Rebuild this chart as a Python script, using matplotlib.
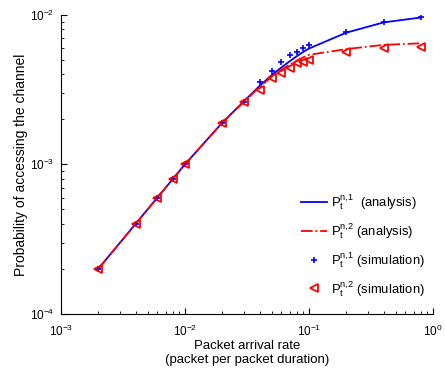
import numpy as np
import matplotlib
matplotlib.use('Agg')
import matplotlib.pyplot as plt

plt.rcParams['font.family'] = ['Liberation Sans', 'DejaVu Sans']
plt.rcParams['mathtext.fontset'] = 'custom'
plt.rcParams['mathtext.rm'] = 'Liberation Sans'
plt.rcParams['mathtext.it'] = 'Liberation Sans:italic'
plt.rcParams['mathtext.bf'] = 'Liberation Sans:bold'

# packet arrival rate
rate = [0.002, 0.004, 0.006, 0.008, 0.01, 0.02, 0.03, 0.04, 0.05, 0.06,
        0.07, 0.08, 0.09, 0.1, 0.2, 0.4, 0.8]
ana1 = [2e-4, 4e-4, 6e-4, 8e-4, 1e-3, 1.9e-3, 2.65e-3, 3.35e-3, 3.95e-3, 4.45e-3,
        4.9e-3, 5.3e-3, 5.65e-3, 5.95e-3, 7.6e-3, 8.9e-3, 9.6e-3]
ana2 = [2e-4, 4e-4, 6e-4, 8e-4, 1e-3, 1.9e-3, 2.62e-3, 3.3e-3, 3.85e-3, 4.3e-3,
        4.65e-3, 4.95e-3, 5.2e-3, 5.4e-3, 5.9e-3, 6.3e-3, 6.45e-3]
sim1 = [2e-4, 4e-4, 6e-4, 8e-4, 1e-3, 1.9e-3, 2.6e-3, 3.55e-3, 4.2e-3, 4.8e-3,
        5.35e-3, 5.65e-3, 6.0e-3, 6.3e-3, 7.7e-3, 9.0e-3, 9.7e-3]
sim2 = [2e-4, 4e-4, 6e-4, 8e-4, 1e-3, 1.9e-3, 2.6e-3, 3.15e-3, 3.8e-3, 4.1e-3,
        4.4e-3, 4.75e-3, 4.85e-3, 5.0e-3, 5.65e-3, 6.0e-3, 6.1e-3]

fig = plt.figure(figsize=(4.45, 3.71), dpi=100)
ax = fig.add_axes([0.137, 0.154, 0.836, 0.806])

ax.loglog(rate, ana1, color='#0000ff', linestyle='-', lw=1.3,
          label=r'$\mathrm{P_t^{n{,}1}}$  (analysis)')
ax.loglog(rate, ana2, color='#ff0000', linestyle='-.', lw=1.3,
          label=r'$\mathrm{P_t^{n{,}2}}$ (analysis)')
ax.loglog(rate, sim1, color='#0000ff', linestyle='none', marker='+', ms=4, mew=1.2,
          label=r'$\mathrm{P_t^{n{,}1}}$ (simulation)')
ax.loglog(rate, sim2, color='#ff0000', linestyle='none', marker='<', ms=5.5, mew=1.3,
          fillstyle='none', label=r'$\mathrm{P_t^{n{,}2}}$ (simulation)')

ax.set_xlim(1e-3, 1)
ax.set_ylim(1e-4, 1e-2)
ax.spines['top'].set_visible(False)
ax.spines['right'].set_visible(False)
ax.tick_params(which='both', direction='in', labelsize=8.5)
ax.tick_params(axis='x', which='major', pad=7)
ax.tick_params(axis='y', which='major', pad=5)
ax.tick_params(which='major', length=4)
ax.tick_params(which='minor', length=2)
ax.set_xlabel('Packet arrival rate\n(packet per packet duration)', fontsize=9.5,
              labelpad=1)
ax.set_ylabel('Probability of accessing the channel', fontsize=10, labelpad=1)

ax.legend(loc='lower right', frameon=False, fontsize=9.4, handlelength=2.0,
          labelspacing=0.7, handletextpad=0.3, bbox_to_anchor=(1.01, 0.012))

fig.savefig('out.png', dpi=100)
